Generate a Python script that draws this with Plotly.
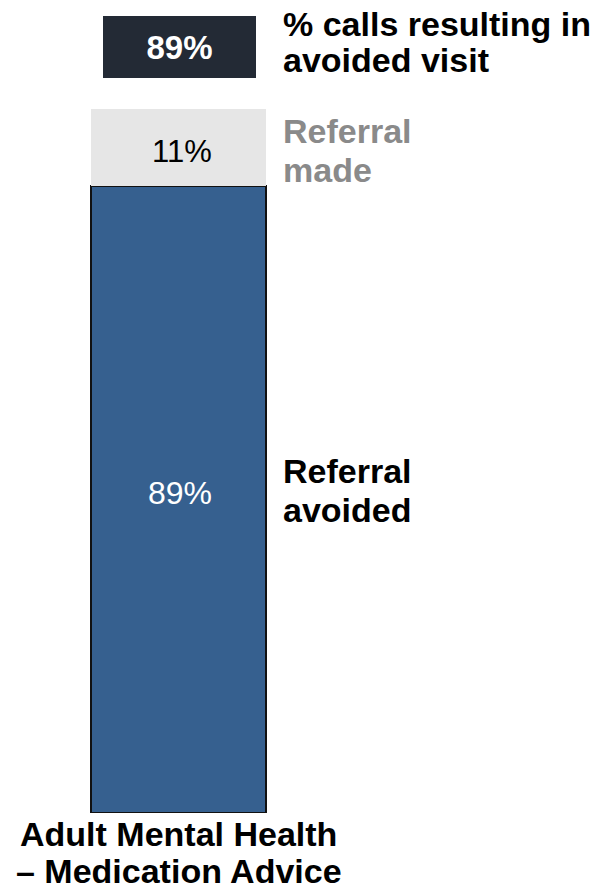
import plotly.graph_objects as go

# ---- data ----
category_lines = ["Adult Mental Health", "– Medication Advice"]
categories = ["Adult Mental Health – Medication Advice"]
referral_avoided = [89]
referral_made = [11]
avoided_visit_pct = 89
series_names = ["Referral avoided", "Referral made"]
header_lines = ["% calls resulting in", "avoided visit"]

FONT = "Liberation Sans, Arial, sans-serif"
BLUE = "#36608f"
LIGHT = "#e6e6e6"
GREY_TXT = "#8a8a8a"
DARK = "#232a35"

W, H = 601, 890
T, B = 109, 77
PLOT_H = H - T - B


def py(pix):
    """pixel row -> paper y"""
    return (H - B - pix) / PLOT_H


def px(pix):
    return pix / W


x = [0]
fig = go.Figure()
fig.add_trace(go.Bar(
    x=x, y=referral_avoided, width=1, name=series_names[0],
    marker=dict(color=BLUE, line=dict(color="#111111", width=2)),
    hoverinfo="skip",
))
fig.add_trace(go.Bar(
    x=x, y=referral_made, width=1, name=series_names[1],
    marker=dict(color=LIGHT, line=dict(width=0)),
    hoverinfo="skip",
))

ann = []
# value labels inside segments
ann.append(dict(x=0.01, y=referral_avoided[0] * 0.5 + 1, xref="x", yref="y",
                text=f"{referral_avoided[0]}%", showarrow=False,
                font=dict(family=FONT, size=32, color="white"),
                xanchor="center", yanchor="middle"))
ann.append(dict(x=0.02, y=referral_avoided[0] + referral_made[0] * 0.5 - 0.5, xref="x", yref="y",
                text=f"{referral_made[0]}%", showarrow=False,
                font=dict(family=FONT, size=31, color="black"),
                xanchor="center", yanchor="middle"))

# header box
ann.append(dict(x=0.005, y=py(47), xref="x", yref="paper",
                text=f"<b>{avoided_visit_pct}%</b>", showarrow=False,
                font=dict(family=FONT, size=33, color="white"),
                bgcolor=DARK, width=153, height=62, borderpad=0, borderwidth=0,
                xanchor="center", yanchor="middle"))

# right-hand labels, one annotation per line for tight spacing
def right_label(text, cy, color):
    ann.append(dict(x=px(281), y=py(cy), xref="paper", yref="paper",
                    text=f"<b>{text}</b>", showarrow=False,
                    font=dict(family=FONT, size=34, color=color),
                    xanchor="left", yanchor="middle"))

right_label(header_lines[0], 24, "black")
right_label(header_lines[1], 60, "black")
made_words = series_names[1].split(" ")
right_label(made_words[0].capitalize(), 131, GREY_TXT)
right_label(made_words[1], 170, GREY_TXT)
avoided_words = series_names[0].split(" ")
right_label(avoided_words[0].capitalize(), 471, "black")
right_label(avoided_words[1], 510, "black")

# category label under the bar
for line, cy in zip(category_lines, [834, 871]):
    ann.append(dict(x=0, y=py(cy), xref="x", yref="paper",
                    text=f"<b>{line}</b>", showarrow=False,
                    font=dict(family=FONT, size=34, color="black"),
                    xanchor="center", yanchor="middle"))

fig.update_layout(
    barmode="stack",
    width=W, height=H,
    margin=dict(l=0, r=0, t=T, b=B),
    paper_bgcolor="white", plot_bgcolor="white",
    showlegend=False,
    xaxis=dict(range=[-0.5 - 91 / 175, 0.5 + (W - 266) / 175], visible=False, fixedrange=True),
    yaxis=dict(range=[0, 100], visible=False, fixedrange=True),
    annotations=ann,
    font=dict(family=FONT),
)

fig.write_html("out.html", config={"displayModeBar": False},
               post_script="document.body.style.margin='0';document.body.style.overflow='hidden';")
